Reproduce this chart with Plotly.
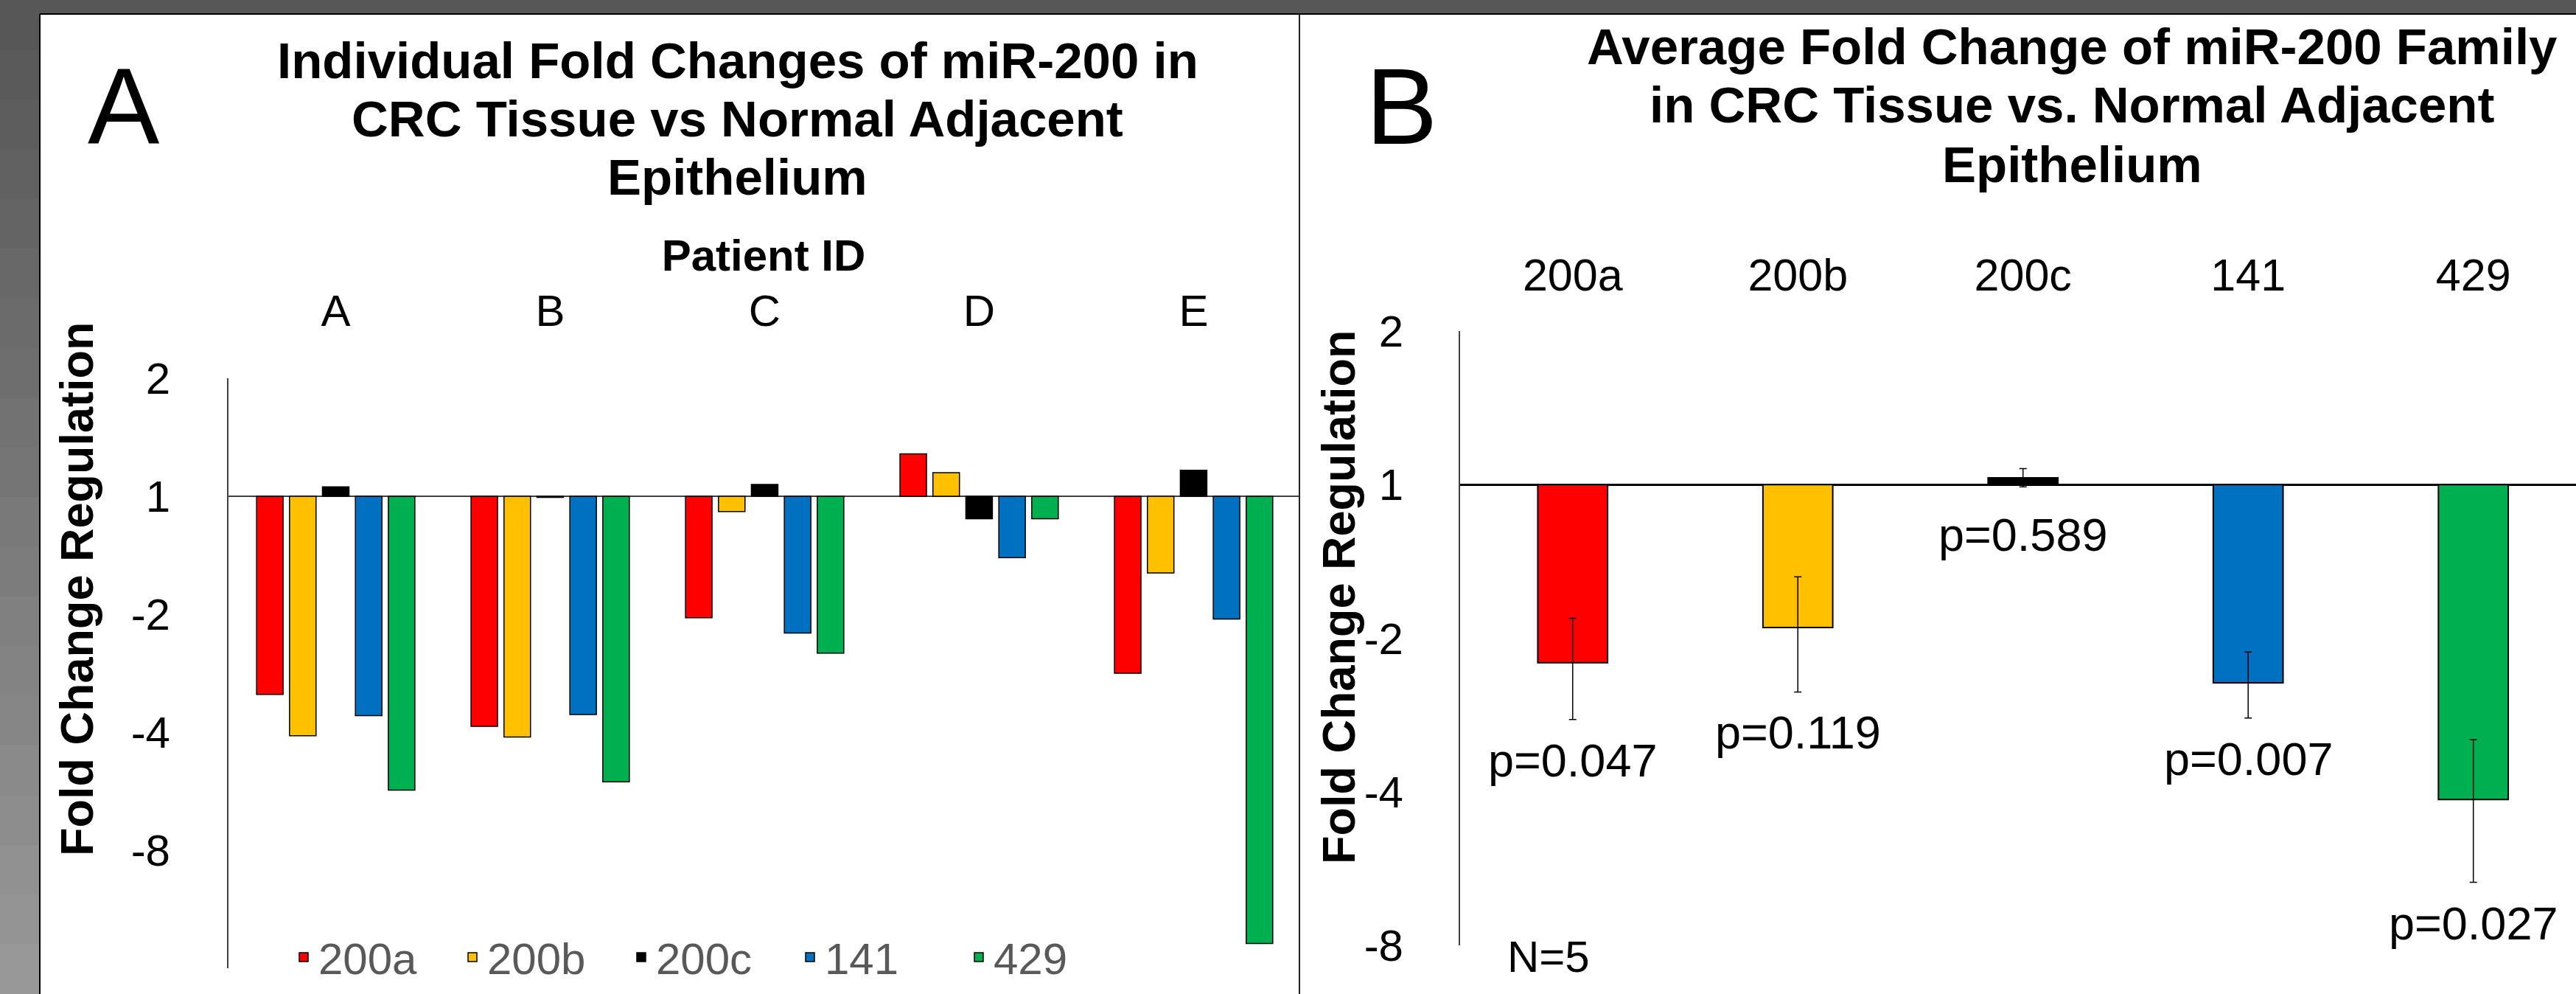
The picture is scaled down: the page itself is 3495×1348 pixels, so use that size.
import plotly.graph_objects as go

W, H = 3495, 1348

# ---------------- data ----------------
patients = ["A", "B", "C", "D", "E"]
mirs = ["200a", "200b", "200c", "141", "429"]
colors = ["#FF0000", "#FFC000", "#000000", "#0070C0", "#00B050"]

# Panel A: per-patient fold change, plotted on log2 scale (0 = no change)
v200a = [-1.68, -1.95, -1.03, 0.36, -1.50]
v200b = [-2.03, -2.04, -0.13, 0.20, -0.65]
v200c = [0.08, -0.01, 0.10, -0.19, 0.22]
v141 = [-1.86, -1.85, -1.16, -0.52, -1.04]
v429 = [-2.49, -2.42, -1.33, -0.19, -3.79]
series_a = [v200a, v200b, v200c, v141, v429]

# Panel B: average fold change (log2) with error bars
avg = [-1.16, -0.93, 0.045, -1.29, -2.05]
err_plus = [0.29, 0.33, 0.06, 0.20, 0.39]
err_minus = [0.37, 0.42, 0.06, 0.23, 0.54]
pvals = ["p=0.047", "p=0.119", "p=0.589", "p=0.007", "p=0.027"]

tickvals_log2 = [1, 0, -1, -2, -3]
ticktext_fc = ["2", "1", "-2", "-4", "-8"]

FONT = "Liberation Sans, Arial, Helvetica, sans-serif"


def px(x):
    return x / W


def py(y):
    return 1 - y / H


fig = go.Figure()

for name, vals, col in zip(mirs, series_a, colors):
    fig.add_trace(go.Bar(
        x=patients, y=vals, name=name,
        marker=dict(color=col, line=dict(color="black", width=1.5)),
        xaxis="x", yaxis="y", hoverinfo="skip",
    ))

fig.add_trace(go.Bar(
    x=mirs, y=avg, width=0.31, showlegend=False, hoverinfo="skip",
    marker=dict(color=colors, line=dict(color="black", width=2)),
    error_y=dict(type="data", symmetric=False, array=err_plus,
                 arrayminus=err_minus, color="black", thickness=1.5, width=5),
    xaxis="x2", yaxis="y2",
))

annotations = []
# p-value labels below each bar / error bar (x given as category index)
for i, (a, em, p) in enumerate(zip(avg, err_minus, pvals)):
    annotations.append(dict(
        x=i, y=min(a, 0) - em, xref="x2", yref="y2", text=p,
        showarrow=False, yanchor="top", yshift=-18,
        font=dict(size=63, color="black", family=FONT),
    ))

annotations.append(dict(x=px(2101), y=py(1297), xref="paper", yref="paper",
                        text="N=5", showarrow=False, xanchor="center",
                        yanchor="middle",
                        font=dict(size=60, color="black", family=FONT)))

# y-axis titles (placed as rotated text, like the original)
for cx, cy in ((104, 799), (1816, 810)):
    annotations.append(dict(x=px(cx), y=py(cy), xref="paper", yref="paper",
                            text="<b>Fold Change Regulation</b>",
                            textangle=-90, showarrow=False,
                            xanchor="center", yanchor="middle",
                            font=dict(size=63, color="black", family=FONT)))

# titles
title_a = ["Individual Fold Changes of miR-200 in",
           "CRC Tissue vs Normal Adjacent", "Epithelium"]
title_b = ["Average Fold Change of miR-200 Family",
           "in CRC Tissue vs. Normal Adjacent", "Epithelium"]
for i, t in enumerate(title_a):
    annotations.append(dict(x=px(1001), y=py(83 + 79 * i), xref="paper",
                            yref="paper", text="<b>%s</b>" % t,
                            showarrow=False, xanchor="center",
                            yanchor="middle",
                            font=dict(size=69, color="black", family=FONT)))
for i, t in enumerate(title_b):
    annotations.append(dict(x=px(2811), y=py(63 + 80 * i), xref="paper",
                            yref="paper", text="<b>%s</b>" % t,
                            showarrow=False, xanchor="center",
                            yanchor="middle",
                            font=dict(size=69, color="black", family=FONT)))

# panel letters
for letter, cx in (("A", 168), ("B", 1902)):
    annotations.append(dict(x=px(cx), y=py(144), xref="paper", yref="paper",
                            text=letter, showarrow=False, xanchor="center",
                            yanchor="middle",
                            font=dict(size=146, color="black", family=FONT)))

# decorative frame: dark top band and gradient left strip
shapes = [dict(type="rect", xref="paper", yref="paper", x0=0, x1=1,
               y0=py(19), y1=1, fillcolor="#575757", line=dict(width=0),
               layer="below")]
n = 20
for i in range(n):
    g = int(0x57 + (0x98 - 0x57) * i / (n - 1))
    shapes.append(dict(type="rect", xref="paper", yref="paper", x0=0,
                       x1=px(54), y0=py((i + 1) * H / n + 1), y1=py(i * H / n),
                       fillcolor="rgb(%d,%d,%d)" % (g, g, g),
                       line=dict(width=0), layer="below"))
shapes += [
    dict(type="line", xref="paper", yref="paper", x0=px(54), x1=px(54),
         y0=0, y1=py(19), line=dict(color="black", width=2)),
    dict(type="line", xref="paper", yref="paper", x0=px(54), x1=1,
         y0=py(19), y1=py(19), line=dict(color="black", width=2)),
    dict(type="line", xref="paper", yref="paper", x0=px(1763), x1=px(1763),
         y0=0, y1=py(19), line=dict(color="#222222", width=2)),
]

axis_common = dict(showgrid=False, ticks="", fixedrange=True,
                   automargin=False)

fig.update_layout(
    template="none",
    width=W, height=H, autosize=False,
    margin=dict(l=0, r=0, t=0, b=0, pad=0),
    paper_bgcolor="white", plot_bgcolor="rgba(0,0,0,0)",
    font=dict(family=FONT, color="black"),
    barmode="group", bargap=0.232, bargroupgap=0.195,
    showlegend=True, hovermode=False,
    legend=dict(orientation="h", x=px(392), xanchor="left", y=py(1298),
                yanchor="middle", bgcolor="rgba(0,0,0,0)", borderwidth=0,
                font=dict(size=60, color="#595959", family=FONT),
                entrywidth=184, entrywidthmode="pixels"),
    xaxis=dict(domain=[px(310), px(1762)], anchor="y", side="top",
               type="category", range=[-0.5, 4.49], showline=False,
               zeroline=False,
               tickfont=dict(size=60, color="black"), ticklabelstandoff=58,
               title=dict(text="<b>Patient ID</b>", standoff=1,
                          font=dict(size=60, color="black")),
               **axis_common),
    yaxis=dict(domain=[py(1313), py(513)], anchor="x", range=[-4, 1],
               tickvals=tickvals_log2, ticktext=ticktext_fc,
               tickfont=dict(size=60, color="black"), ticklabelstandoff=65,
               showline=True, linecolor="#404040", linewidth=2,
               zeroline=True, zerolinecolor="#404040", zerolinewidth=2,
               **axis_common),
    xaxis2=dict(domain=[px(1981), 1], anchor="y2", side="top",
                type="category", range=[-0.5, 4.456], showline=False,
                zeroline=False,
                tickfont=dict(size=61, color="black"), ticklabelstandoff=42,
                **axis_common),
    yaxis2=dict(domain=[py(1282), py(449)], anchor="x2", range=[-3, 1],
                tickvals=tickvals_log2, ticktext=ticktext_fc,
                tickfont=dict(size=60, color="black"), ticklabelstandoff=63,
                showline=True, linecolor="#404040", linewidth=2,
                zeroline=True, zerolinecolor="black", zerolinewidth=2.5,
                **axis_common),
    annotations=annotations,
    shapes=shapes,
)

fig.write_html("out.html", include_plotlyjs=True,
               config={"displayModeBar": False, "staticPlot": True},
               post_script="document.body.style.margin='0';"
                           "document.body.style.overflow='hidden';")
